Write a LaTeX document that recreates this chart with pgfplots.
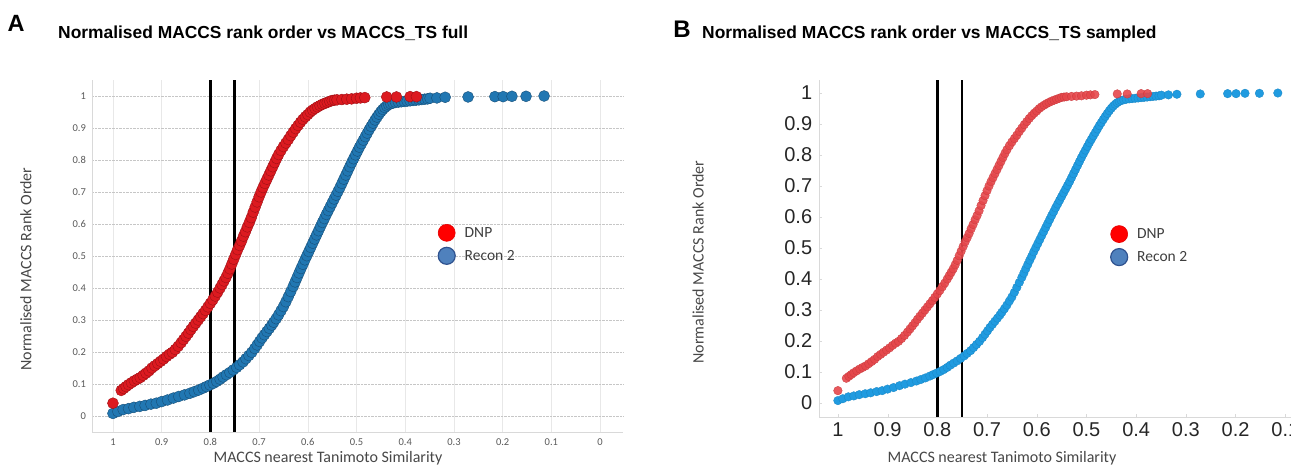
\documentclass[border=0pt]{standalone}
\usepackage{pgfplots}
\pgfplotsset{compat=1.18}
\usepackage{pgfplotstable}
\usepackage{fontspec}
\setmainfont{Carlito}
\newfontfamily\arial{Liberation Sans}

\definecolor{redA}{HTML}{DC1A20}
\definecolor{redAedge}{HTML}{9E1015}
\definecolor{blueA}{HTML}{2177B2}
\definecolor{blueAedge}{HTML}{174F78}
\definecolor{redB}{HTML}{E5474B}
\definecolor{redBedge}{HTML}{C9393D}
\definecolor{blueB}{HTML}{209BE0}
\definecolor{blueBedge}{HTML}{1A86C4}
\definecolor{legblue}{HTML}{4F81BD}
\definecolor{legblueedge}{HTML}{2F528F}
\definecolor{axgray}{HTML}{D9D9D9}
\definecolor{txtgray}{HTML}{595959}

% DNP: nearest Tanimoto similarity vs normalised rank order
\pgfplotstableread{
x y
1.000 0.040
0.983 0.080
0.978 0.086
0.973 0.092
0.968 0.098
0.962 0.104
0.956 0.110
0.950 0.115
0.944 0.120
0.938 0.127
0.932 0.134
0.926 0.141
0.920 0.150
0.914 0.157
0.908 0.164
0.902 0.171
0.896 0.178
0.890 0.186
0.884 0.193
0.878 0.199
0.872 0.208
0.866 0.218
0.860 0.229
0.855 0.239
0.850 0.249
0.845 0.259
0.840 0.270
0.835 0.280
0.830 0.290
0.825 0.300
0.820 0.310
0.815 0.320
0.810 0.330
0.805 0.341
0.800 0.352
0.795 0.363
0.790 0.375
0.785 0.387
0.780 0.400
0.776 0.411
0.772 0.422
0.768 0.433
0.764 0.446
0.760 0.460
0.756 0.475
0.752 0.490
0.748 0.505
0.744 0.520
0.740 0.533
0.736 0.547
0.732 0.562
0.728 0.576
0.724 0.591
0.720 0.605
0.716 0.620
0.712 0.637
0.708 0.653
0.704 0.669
0.700 0.685
0.696 0.700
0.692 0.714
0.688 0.727
0.684 0.740
0.680 0.753
0.676 0.766
0.672 0.779
0.668 0.792
0.664 0.805
0.660 0.817
0.655 0.830
0.650 0.842
0.645 0.853
0.640 0.864
0.635 0.876
0.630 0.887
0.625 0.898
0.620 0.908
0.615 0.918
0.610 0.927
0.605 0.935
0.600 0.942
0.595 0.950
0.590 0.956
0.585 0.961
0.580 0.966
0.575 0.970
0.570 0.974
0.565 0.977
0.560 0.980
0.555 0.983
0.550 0.986
0.545 0.987
0.540 0.988
0.530 0.989
0.520 0.990
0.510 0.991
0.500 0.993
0.492 0.994
0.483 0.995
0.438 0.997
0.418 0.997
0.390 0.998
0.377 0.998
}\dnp

% Recon 2
\pgfplotstableread{
x y
1.000 0.008
0.990 0.014
0.979 0.020
0.968 0.023
0.957 0.027
0.945 0.030
0.934 0.033
0.922 0.037
0.911 0.040
0.900 0.045
0.888 0.050
0.876 0.056
0.865 0.061
0.853 0.066
0.842 0.071
0.833 0.076
0.824 0.081
0.815 0.087
0.808 0.092
0.801 0.097
0.794 0.102
0.787 0.108
0.780 0.115
0.774 0.122
0.767 0.129
0.760 0.136
0.753 0.144
0.746 0.152
0.740 0.160
0.733 0.169
0.727 0.179
0.721 0.189
0.715 0.199
0.709 0.211
0.704 0.222
0.699 0.233
0.694 0.244
0.689 0.254
0.684 0.264
0.679 0.274
0.674 0.284
0.670 0.293
0.665 0.304
0.660 0.316
0.655 0.329
0.650 0.342
0.645 0.357
0.640 0.373
0.635 0.389
0.630 0.405
0.626 0.419
0.622 0.433
0.618 0.447
0.614 0.461
0.610 0.474
0.606 0.488
0.602 0.501
0.598 0.514
0.594 0.527
0.590 0.540
0.586 0.553
0.582 0.566
0.578 0.579
0.574 0.592
0.570 0.605
0.566 0.617
0.562 0.630
0.558 0.642
0.554 0.654
0.550 0.666
0.546 0.678
0.542 0.690
0.538 0.702
0.534 0.714
0.530 0.727
0.526 0.740
0.522 0.753
0.518 0.766
0.514 0.779
0.510 0.792
0.506 0.804
0.502 0.816
0.498 0.828
0.494 0.840
0.490 0.851
0.486 0.862
0.482 0.873
0.478 0.884
0.474 0.895
0.470 0.905
0.466 0.915
0.462 0.925
0.458 0.934
0.454 0.943
0.450 0.951
0.446 0.958
0.442 0.964
0.438 0.969
0.434 0.973
0.430 0.976
0.425 0.978
0.420 0.980
0.414 0.981
0.408 0.982
0.402 0.983
0.396 0.984
0.390 0.985
0.384 0.986
0.378 0.987
0.372 0.988
0.366 0.989
0.360 0.990
0.354 0.991
0.349 0.993
0.335 0.994
0.318 0.996
0.271 0.997
0.216 0.998
0.199 0.998
0.181 0.999
0.152 0.999
0.115 1.000
}\recon

\begin{document}
\begin{tikzpicture}
\useasboundingbox (0,0) rectangle (1291pt,466pt);

% ---------- panel A ----------
\node[font=\arial\bfseries\fontsize{23.5}{26}\selectfont] at (16pt,443pt) {A};
\node[anchor=west,inner sep=0pt,font=\arial\bfseries\fontsize{17.4}{20}\selectfont] at (58pt,433pt)
  {Normalised MACCS rank order vs MACCS\_TS full};
\node[rotate=90,text=txtgray!80!black,font=\fontsize{16}{19}\selectfont] at (26pt,197pt)
  {Normalised MACCS Rank Order};
\node[text=txtgray!80!black,font=\fontsize{16}{19}\selectfont] at (328pt,8pt)
  {MACCS nearest Tanimoto Similarity};

\begin{axis}[
  at={(92pt,34pt)}, anchor=south west,
  scale only axis, width=531pt, height=352pt,
  x dir=reverse,
  xmin=-0.047, xmax=1.043, ymin=-0.05, ymax=1.05,
  axis x line*=bottom, axis y line*=left,
  axis line style={axgray, -},
  major tick length=0pt,
  xtick={0,0.1,0.2,0.3,0.4,0.5,0.6,0.7,0.8,0.9,1},
  ytick={0,0.1,0.2,0.3,0.4,0.5,0.6,0.7,0.8,0.9,1},
  xmajorgrids, ymajorgrids,
  x grid style={gray!18},
  y grid style={densely dotted, gray!45},
  /pgf/number format/assume math mode=true,
  tick label style={text=txtgray, font=\fontsize{10.5}{12}\selectfont},
  xticklabel style={yshift=-3pt},
  yticklabel style={xshift=-2.5pt},
  clip=true,
  legend style={at={(axis description cs:0.652,0.59)}, anchor=north west,
    draw=none, fill=none, inner sep=0pt, outer sep=0pt,
    row sep=6pt, column sep=8.5pt, nodes={inner sep=1pt},
    font=\fontsize{15.5}{18}\selectfont, text=txtgray!70!black},
  legend cell align=left,
]
\addlegendimage{only marks, mark=*, mark size=8.5pt, mark options={fill=red, draw=red!90!black, line width=0.6pt}}
\addlegendentry{DNP}
\addlegendimage{only marks, mark=*, mark size=8.5pt, mark options={fill=legblue, draw=legblueedge, line width=1.2pt}}
\addlegendentry{Recon 2}
\addplot[forget plot, only marks, mark=*, mark size=5.5pt, mark options={fill=blueA, draw=blueAedge, line width=0.4pt}] table {\recon};
\addplot[forget plot, only marks, mark=*, mark size=5.5pt, mark options={fill=redA, draw=redAedge, line width=0.4pt}] table {\dnp};
\addplot[forget plot, black, line width=2.6pt] coordinates {(0.8,-0.05) (0.8,1.05)};
\addplot[forget plot, black, line width=2.6pt] coordinates {(0.75,-0.05) (0.75,1.05)};
\end{axis}

% ---------- panel B ----------
\node[font=\arial\bfseries\fontsize{24}{27}\selectfont] at (682pt,437pt) {B};
\node[anchor=west,inner sep=0pt,font=\arial\bfseries\fontsize{17.4}{20}\selectfont] at (702pt,432pt)
  {Normalised MACCS rank order vs MACCS\_TS sampled};
\node[rotate=90,text=txtgray!80!black,font=\fontsize{16}{19}\selectfont] at (698pt,204pt)
  {Normalised MACCS Rank Order};
\node[text=txtgray!80!black,font=\fontsize{16}{19}\selectfont] at (1002pt,8pt)
  {MACCS nearest Tanimoto Similarity};

\begin{axis}[
  at={(819pt,49pt)}, anchor=south west,
  scale only axis, width=472pt, height=337pt,
  x dir=reverse,
  xmin=0.0885, xmax=1.038, ymin=-0.045, ymax=1.042,
  axis x line*=bottom, axis y line*=left,
  axis line style={axgray, -},
  tick align=inside, major tick length=3pt,
  tick style={axgray},
  xtick={0.1,0.2,0.3,0.4,0.5,0.6,0.7,0.8,0.9,1},
  ytick={0,0.1,0.2,0.3,0.4,0.5,0.6,0.7,0.8,0.9,1},
  /pgf/number format/assume math mode=true,
  tick label style={text=black!85, font=\arial\fontsize{20}{22}\selectfont},
  xticklabel style={yshift=-2.3pt},
  yticklabel style={xshift=-3.3pt},
  clip=true,
  legend style={at={(axis description cs:0.618,0.568)}, anchor=north west,
    draw=none, fill=none, inner sep=0pt, outer sep=0pt,
    row sep=6pt, column sep=8.5pt, nodes={inner sep=1pt},
    font=\fontsize{15.5}{18}\selectfont, text=txtgray!70!black},
  legend cell align=left,
]
\addlegendimage{only marks, mark=*, mark size=8.5pt, mark options={fill=red, draw=red!90!black, line width=0.6pt}}
\addlegendentry{DNP}
\addlegendimage{only marks, mark=*, mark size=8.5pt, mark options={fill=legblue, draw=legblueedge, line width=1.2pt}}
\addlegendentry{Recon 2}
\addplot[forget plot, only marks, mark=*, mark size=4.3pt, mark options={fill=blueB, draw=blueBedge, line width=0.3pt}] table {\recon};
\addplot[forget plot, only marks, mark=*, mark size=4.3pt, mark options={fill=redB, draw=redBedge, line width=0.3pt, fill opacity=0.9}] table {\dnp};
\addplot[forget plot, black, line width=2.6pt] coordinates {(0.8,-0.045) (0.8,1.042)};
\addplot[forget plot, black, line width=2.6pt] coordinates {(0.75,-0.045) (0.75,1.042)};
\end{axis}
\end{tikzpicture}
\end{document}
